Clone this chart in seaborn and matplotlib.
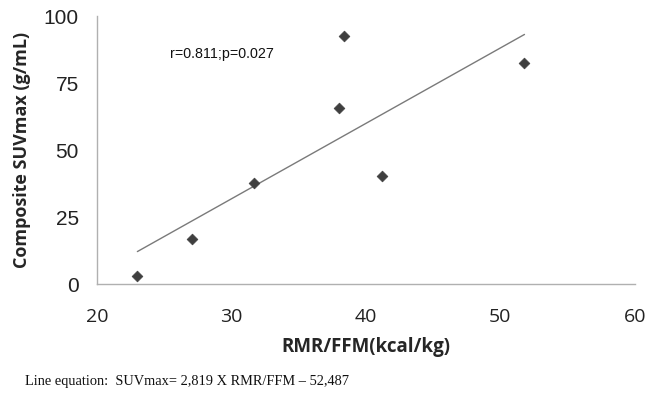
import matplotlib
matplotlib.use("Agg")
import matplotlib.pyplot as plt
import pandas as pd
import seaborn as sns

# values
rmr_ffm = [23.0, 27.1, 31.7, 38.0, 38.4, 41.2, 51.8]
suv_max = [3.1, 16.7, 37.6, 65.6, 92.7, 40.4, 82.6]
x_ticks = [20, 30, 40, 50, 60]
y_ticks = [0, 25, 50, 75, 100]
stat_text = "r=0.811;p=0.027"
caption = "Line equation:  SUVmax= 2,819 X RMR/FFM \u2013 52,487"

df = pd.DataFrame({"rmr": rmr_ffm, "suv": suv_max})

sns.set_style("white")
plt.rcParams["font.family"] = ["Open Sans", "DejaVu Sans"]

fig = plt.figure(figsize=(6.47, 3.95), dpi=100)
ax = fig.add_axes([0.150, 0.281, 0.831, 0.678])

# fitted line
sns.regplot(data=df, x="rmr", y="suv", ax=ax, scatter=False, ci=None,
            line_kws={"color": "#7a7a7a", "linewidth": 1.0})
sns.scatterplot(data=df, x="rmr", y="suv", ax=ax, marker="D", s=30,
                color="#3f3f3f", edgecolor="#3f3f3f", linewidth=0.5, zorder=3)

ax.set_xlim(20, 60)
ax.set_ylim(0, 100)
ax.set_xticks(x_ticks)
ax.set_yticks(y_ticks)

for side in ["top", "right"]:
    ax.spines[side].set_visible(False)
for side in ["left", "bottom"]:
    ax.spines[side].set_color("#b0b0b0")
    ax.spines[side].set_linewidth(1.0)

ax.tick_params(axis="both", direction="out", length=4, width=0.8,
               color="#b0b0b0", labelcolor="#222222")
ax.tick_params(axis="x", pad=13, labelsize=14)
ax.tick_params(axis="y", pad=9, labelsize=15)
for lab in ax.get_yticklabels():
    lab.set_family("Liberation Sans")

ax.set_xlabel("RMR/FFM(kcal/kg)", fontsize=13.5, fontweight="bold", labelpad=8)
ax.set_ylabel("Composite SUVmax (g/mL)", fontsize=13, fontweight="bold", labelpad=9)

ax.text(25.4, 86, stat_text, fontsize=10.3, family="Liberation Sans",
        va="center", ha="left", color="#111111")

fig.text(0.038, 0.035, caption, fontsize=10.4, family="Liberation Serif",
         va="center", ha="left", color="#111111")

fig.savefig("out.png", dpi=100)
